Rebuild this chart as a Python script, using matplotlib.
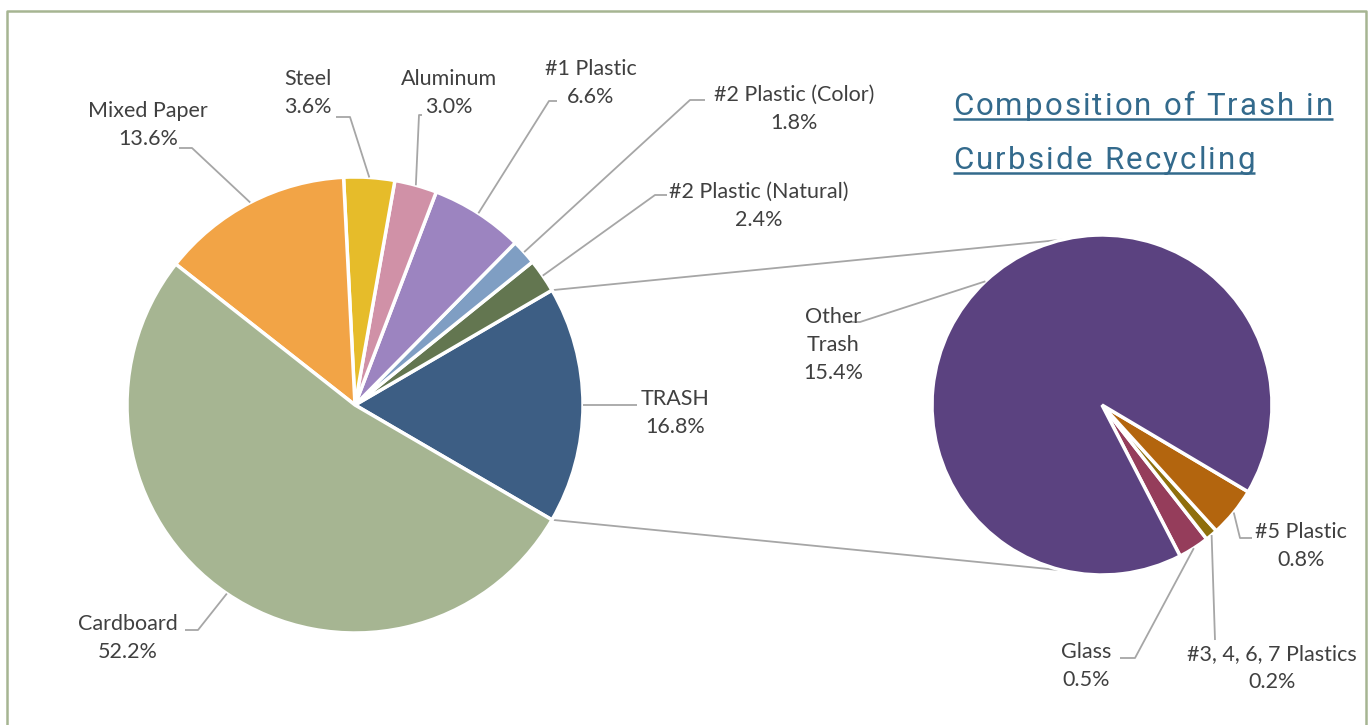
import matplotlib.pyplot as plt
import numpy as np
from matplotlib.font_manager import FontProperties

# figure size in pixels (axes coords == pixels, y measured from the top)
W, H = 1369, 725

# main pie, counter-clockwise starting at the TRASH slice
main_labels = ['TRASH', '#2 Plastic (Natural)', '#2 Plastic (Color)', '#1 Plastic',
               'Aluminum', 'Steel', 'Mixed Paper', 'Cardboard']
main_values = [16.8, 2.4, 1.8, 6.6, 3.0, 3.6, 13.6, 52.2]
main_colors = ['#3D5E84', '#637650', '#7F9EC3', '#9C84C0',
               '#D091A7', '#E6BC2A', '#F2A446', '#A6B592']

# breakdown of TRASH, counter-clockwise starting at Glass
trash_labels = ['Glass', '#3, 4, 6, 7 Plastics', '#5 Plastic', 'Other\nTrash']
trash_values = [0.5, 0.2, 0.8, 15.4]
trash_colors = ['#953D5B', '#8F6F0C', '#B3650E', '#5B4280']

title_lines = ['Composition of Trash in', 'Curbside Recycling']

# label layout: text centre and elbow of the leader line (screen px)
label_pos = {
    'TRASH': (675, 413), '#2 Plastic (Natural)': (759, 206),
    '#2 Plastic (Color)': (794, 109), '#1 Plastic': (591, 83),
    'Aluminum': (449, 93), 'Steel': (308, 93), 'Mixed Paper': (148, 125),
    'Cardboard': (128, 638),
    'Glass': (1086, 666), '#3, 4, 6, 7 Plastics': (1272, 668),
    '#5 Plastic': (1301, 546), 'Other\nTrash': (833, 345),
}
leader_elbow = {
    'TRASH': [(637, 405)],
    '#2 Plastic (Natural)': [(655, 195), (667, 195)],
    '#2 Plastic (Color)': [(690, 100), (705, 100)],
    '#1 Plastic': [(549, 101), (557, 101)],
    'Aluminum': [(419, 115), (422, 115)],
    'Steel': [(350, 117), (336, 117)],
    'Mixed Paper': [(192, 148), (179, 148)],
    'Cardboard': [(198, 630), (185, 630)],
    'Glass': [(1135, 658), (1120, 658)],
    '#3, 4, 6, 7 Plastics': [(1215, 640)],
    '#5 Plastic': [(1240, 538), (1252, 538)],
    'Other\nTrash': [(860, 322), (848, 322)],
}

text_color = '#404040'
line_color = '#A6A6A6'
title_color = '#336A8C'
border_color = '#A6B592'


def Y(y):
    return H - y


fig = plt.figure(figsize=(W / 100, H / 100), dpi=100)
ax = fig.add_axes([0, 0, 1, 1])

# main pie
main_c, main_r = (355, 405), 228
start = -main_values[0] / sum(main_values) * 180
wedges1, _ = ax.pie(main_values, colors=main_colors, startangle=start,
                    center=(main_c[0], Y(main_c[1])), radius=main_r,
                    wedgeprops=dict(edgecolor='white', linewidth=2.5))

# secondary pie
sec_c, sec_r = (1102, 405), 170
small = sum(trash_values[:-1]) / sum(trash_values) * 360
wedges2, _ = ax.pie(trash_values, colors=trash_colors, startangle=-30.7 - small,
                    center=(sec_c[0], Y(sec_c[1])), radius=sec_r,
                    explode=[0.08, 0.08, 0.08, 0],
                    wedgeprops=dict(edgecolor='white', linewidth=2.5))

font = dict(family=['Lato', 'DejaVu Sans'], fontsize=15.5, color=text_color)


def label_wedges(wedges, labels, values):
    for w, name, v in zip(wedges, labels, values):
        mid = np.radians((w.theta1 + w.theta2) / 2)
        cx, cy = w.center
        px, py = cx + w.r * np.cos(mid), cy + w.r * np.sin(mid)
        pts = [(px, py)] + [(x, Y(y)) for x, y in leader_elbow[name]]
        xs, ys = zip(*pts)
        ax.plot(xs, ys, color=line_color, lw=1.3, solid_capstyle='butt', zorder=1)
        tx, ty = label_pos[name]
        ax.text(tx, Y(ty), '%s\n%.1f%%' % (name, v), ha='center', va='center',
                linespacing=1.5, **font)


label_wedges(wedges1, main_labels, main_values)
label_wedges(wedges2, trash_labels, trash_values)

# connector lines between the pies
t = wedges1[0]
for ang, sec_ang in ((t.theta2, 103.4), (t.theta1, -103.4)):
    a, b = np.radians(ang), np.radians(sec_ang)
    x0 = t.center[0] + t.r * np.cos(a)
    y0 = t.center[1] + t.r * np.sin(a)
    x1 = sec_c[0] + sec_r * np.cos(b)
    y1 = Y(sec_c[1]) + sec_r * np.sin(b)
    ax.plot([x0, x1], [y0, y1], color=line_color, lw=1.3, zorder=0)

ax.set_xlim(0, W)
ax.set_ylim(0, H)
ax.set_aspect('equal')
ax.axis('off')

# title with letter spacing and underline
renderer = fig.canvas.get_renderer()
tprops = FontProperties(family='Roboto', size=22.5)


def text_width(s):
    w, _, _ = renderer.get_text_width_height_descent(s + '|', tprops, ismath=False)
    w0, _, _ = renderer.get_text_width_height_descent('|', tprops, ismath=False)
    return w - w0


title_left = 953
title_base = [115, 169]
title_right = [1333, 1255]
for line, base, right in zip(title_lines, title_base, title_right):
    natural = text_width(line)
    extra = (right - title_left - natural) / (len(line) - 1)
    for i, ch in enumerate(line):
        x = title_left + text_width(line[:i]) + i * extra
        ax.text(x, Y(base), ch, fontproperties=tprops, color=title_color,
                ha='left', va='baseline')
    ax.plot([title_left, right], [Y(base + 3.5)] * 2, color=title_color,
            lw=1.8, solid_capstyle='butt')

# chart border
ax.plot([7, 7, 1366, 1366], [0, Y(11), Y(11), 0], color=border_color, lw=1.8)

fig.savefig('out.png', dpi=100)
